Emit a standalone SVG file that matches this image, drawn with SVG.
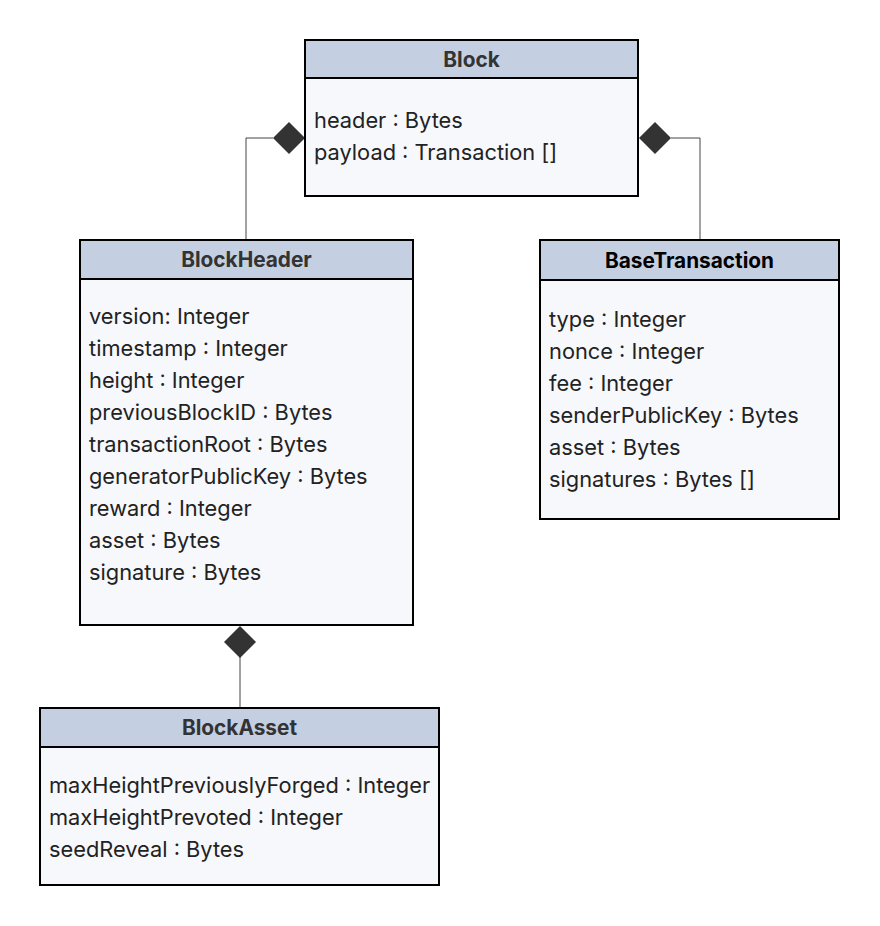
<svg xmlns="http://www.w3.org/2000/svg" width="880" height="926" viewBox="0 0 880 926">
<style>
.box{fill:#f7f8fc;stroke:#000;stroke-width:2}
.hd{fill:#c5cfe2;stroke:#000;stroke-width:2}
.title{font-family:Inter,"Liberation Sans",sans-serif;font-size:20.8px;font-weight:bold;fill:#333;text-anchor:middle}
.attr{font-family:Inter,"Liberation Sans",sans-serif;font-size:21.8px;fill:#222}
.conn{fill:none;stroke:#444;stroke-width:1}
.dia{fill:#333}
</style>
<rect width="880" height="926" fill="#fff"/>
<g id="connectors">
<polyline class="conn" points="273,138 246,138 246,240"/>
<polygon class="dia" points="305,138 289,122 273,138 289,154"/>
<polyline class="conn" points="671,138 700,138 700,240"/>
<polygon class="dia" points="639,138 655,122 671,138 655,154"/>
<line class="conn" x1="240" y1="657" x2="240" y2="708"/>
<polygon class="dia" points="240,626 256,642 240,658 224,642"/>
</g>
<g id="Block">
<rect class="box" x="305" y="40" width="333" height="156"/>
<rect class="hd" x="305" y="40" width="333" height="38"/>
<text class="title" x="471.5" y="67">Block</text>
<text class="attr" x="314" y="128">header : Bytes</text>
<text class="attr" x="314" y="160">payload : Transaction []</text>
</g>
<g id="BlockHeader">
<rect class="box" x="80" y="240" width="333" height="385"/>
<rect class="hd" x="80" y="240" width="333" height="39"/>
<text class="title" x="246.5" y="267">BlockHeader</text>
<text class="attr" x="89" y="324">version: Integer</text>
<text class="attr" x="89" y="356">timestamp : Integer</text>
<text class="attr" x="89" y="388">height : Integer</text>
<text class="attr" x="89" y="420">previousBlockID : Bytes</text>
<text class="attr" x="89" y="452">transactionRoot : Bytes</text>
<text class="attr" x="89" y="484">generatorPublicKey : Bytes</text>
<text class="attr" x="89" y="516">reward : Integer</text>
<text class="attr" x="89" y="548">asset : Bytes</text>
<text class="attr" x="89" y="580">signature : Bytes</text>
</g>
<g id="BaseTransaction">
<rect class="box" x="540" y="240" width="299" height="279"/>
<rect class="hd" x="540" y="240" width="299" height="40"/>
<text class="title" x="689.5" y="268" style="fill:#000">BaseTransaction</text>
<text class="attr" x="549" y="327">type : Integer</text>
<text class="attr" x="549" y="359">nonce : Integer</text>
<text class="attr" x="549" y="391">fee : Integer</text>
<text class="attr" x="549" y="423">senderPublicKey : Bytes</text>
<text class="attr" x="549" y="455">asset : Bytes</text>
<text class="attr" x="549" y="487">signatures : Bytes []</text>
</g>
<g id="BlockAsset">
<rect class="box" x="40" y="708" width="399" height="177"/>
<rect class="hd" x="40" y="708" width="399" height="39"/>
<text class="title" x="239.5" y="735">BlockAsset</text>
<text class="attr" x="49" y="793">maxHeightPreviouslyForged : Integer</text>
<text class="attr" x="49" y="825">maxHeightPrevoted : Integer</text>
<text class="attr" x="49" y="857">seedReveal : Bytes</text>
</g>
</svg>
